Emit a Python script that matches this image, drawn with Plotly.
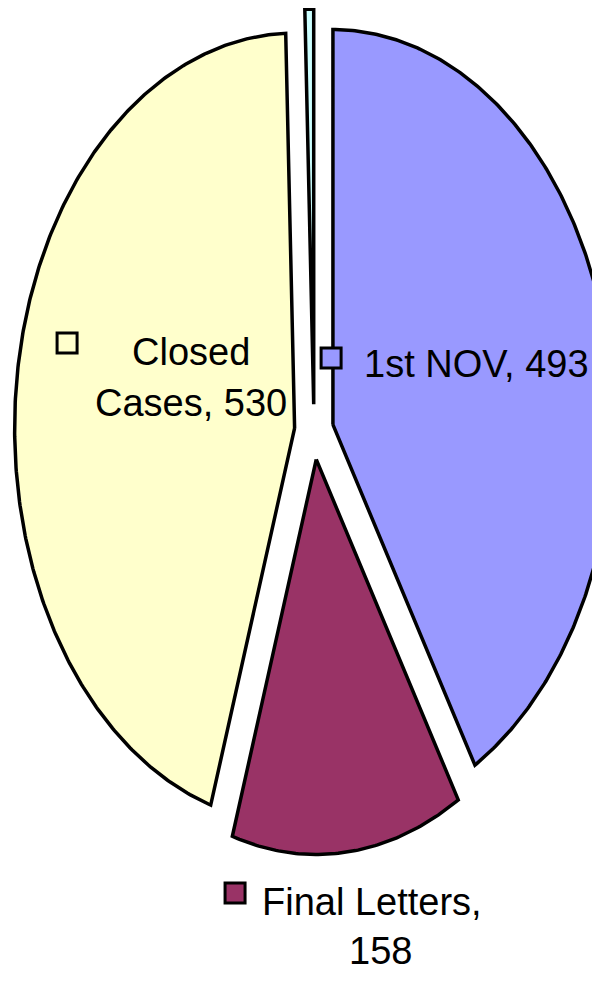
import numpy as np
import plotly.graph_objects as go

# ---- data ----
categories = ["1st NOV", "Final Letters", "Closed Cases", "Other"]
values = [493, 158, 530, 6]
colors = ["#9999FF", "#993366", "#FFFFCC", "#CCFFFF"]
label_text = ["1st NOV, 493", "Final Letters,<br>158", "Closed<br>Cases, 530", None]

PULL = 0.07
total = float(sum(values))

fig = go.Figure()

start = 0.0
for cat, val, col in zip(categories, values, colors):
    span = val / total * 360.0
    a0, a1 = start, start + span
    mid = np.radians((a0 + a1) / 2)
    ox, oy = PULL * np.sin(mid), PULL * np.cos(mid)
    th = np.radians(np.linspace(a0, a1, max(8, int(span * 2))))
    xs = np.concatenate([[ox], ox + np.sin(th), [ox]])
    ys = np.concatenate([[oy], oy + np.cos(th), [oy]])
    fig.add_trace(go.Scatter(x=xs, y=ys, mode="lines", fill="toself",
                             fillcolor=col, line=dict(color="black", width=3.5),
                             name=cat, hoverinfo="name", showlegend=False))
    start = a1

FONT = dict(family="Liberation Sans, Arial, Helvetica, sans-serif",
            size=38, color="black")

# label line positions (ellipse units) and legend-key positions
label_pos = {
    "1st NOV": dict(lines=[(0.171, 0.172, "left")], key=(0.061, 0.187)),
    "Final Letters": dict(lines=[(0.207, -1.190, "center"), (0.239, -1.314, "center")],
                          key=(-0.282, -1.167)),
    "Closed Cases": dict(lines=[(-0.439, 0.2025, "center"), (-0.439, 0.073, "center")],
                         key=(-0.882, 0.225)),
}

for cat, col, txt in zip(categories, colors, label_text):
    if txt is None:
        continue
    p = label_pos[cat]
    for (lx, ly, anc), line in zip(p["lines"], txt.split("<br>")):
        fig.add_annotation(x=lx, y=ly, xref="x", yref="y", text=line,
                           showarrow=False, xanchor=anc, yanchor="middle",
                           font=FONT)
    fig.add_trace(go.Scatter(x=[p["key"][0]], y=[p["key"][1]], mode="markers",
                             marker=dict(symbol="square", size=20, color=col,
                                         line=dict(color="black", width=3)),
                             hoverinfo="skip", showlegend=False))

fig.update_layout(
    width=600, height=981,
    margin=dict(l=0, r=0, t=0, b=0),
    paper_bgcolor="white", plot_bgcolor="white",
    xaxis=dict(range=[-1.093, 1.050], visible=False, fixedrange=True),
    yaxis=dict(range=[-1.410, 1.073], visible=False, fixedrange=True),
    showlegend=False,
)

fig.write_html("out.html")
